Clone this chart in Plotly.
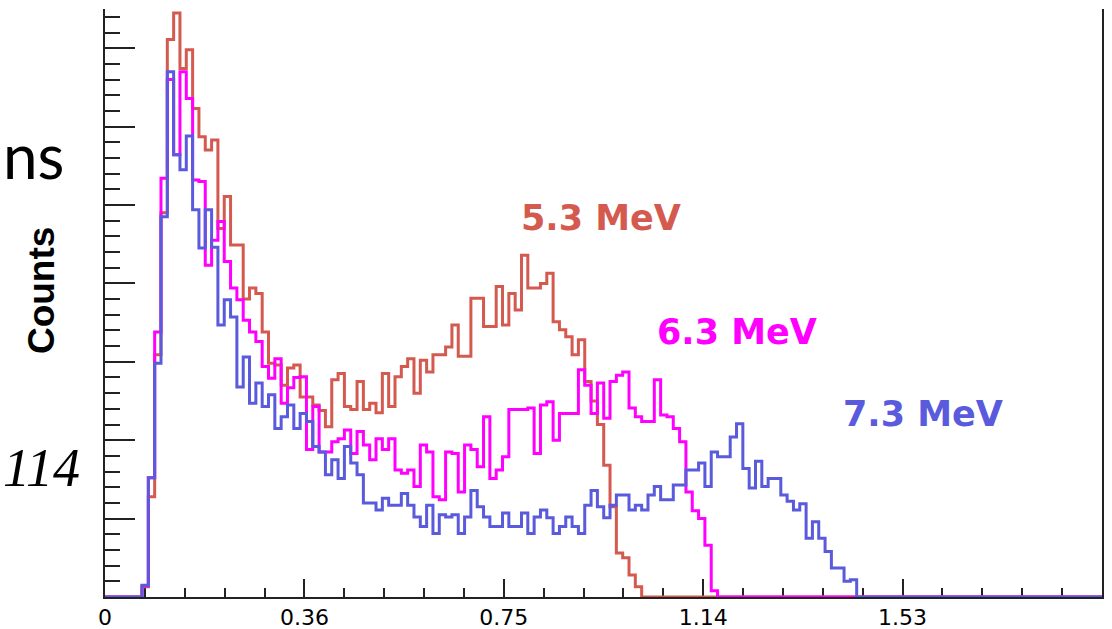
import numpy as np
import plotly.graph_objects as go

# Binning of the energy histograms
BIN_START = 0.0424
BIN_WIDTH = 0.01237

# Counts per bin for each beam energy
counts_5_3 = [13, 128, 309, 490, 711, 745, 674, 698, 623, 587,
              570, 583, 470, 511, 449, 449, 380, 394, 387, 338,
              298, 296, 270, 292, 296, 255, 255, 245, 238, 217,
              277, 285, 243, 239, 275, 239, 247, 235, 285, 243,
              281, 294, 304, 260, 302, 287, 309, 309, 319, 347,
              307, 307, 381, 381, 345, 345, 396, 347, 387, 366,
              436, 394, 394, 400, 413, 351, 341, 332, 309, 328,
              275, 250, 220, 168, 115, 56, 50, 28, 13]

counts_6_3 = [14, 152, 338, 534, 660, 564, 670, 636, 532, 530,
              423, 455, 479, 428, 394, 379, 353, 338, 326, 294,
              279, 304, 247, 267, 280, 281, 188, 243, 185, 185,
              198, 202, 213, 183, 211, 194, 175, 202, 188, 202,
              162, 158, 162, 141, 194, 185, 128, 124, 185, 183,
              134, 194, 188, 166, 230, 151, 162, 179, 239, 239,
              239, 241, 183, 245, 249, 200, 234, 234, 234, 290,
              270, 234, 273, 228, 275, 283, 287, 241, 230, 224,
              224, 277, 232, 230, 215, 198, 134, 110, 100, 66,
              8]

counts_7_3 = [15, 152, 298, 485, 670, 564, 545, 588, 494, 445,
              494, 446, 347, 379, 357, 268, 306, 247, 273, 243,
              258, 215, 230, 245, 215, 234, 224, 192, 185, 156,
              175, 151, 192, 171, 156, 120, 120, 111, 126, 117,
              117, 132, 117, 102, 90, 117, 81, 105, 102, 105,
              81, 102, 136, 115, 102, 90, 90, 107, 90, 90,
              107, 81, 102, 111, 101, 81, 90, 102, 90, 81,
              117, 136, 115, 101, 117, 130, 130, 111, 117, 111,
              130, 141, 124, 124, 143, 143, 162, 162, 171, 141,
              185, 179, 179, 204, 221, 164, 139, 173, 141, 151,
              151, 130, 122, 111, 119, 75, 96, 75, 58, 37,
              37, 20, 22]

series_labels = ["5.3 MeV", "6.3 MeV", "7.3 MeV"]
series_colors = ["#D45A50", "#FF00FF", "#5A5ADC"]
series_counts = [counts_5_3, counts_6_3, counts_7_3]

x_tick_vals = [-0.03, 0.36, 0.75, 1.14, 1.53]
x_tick_text = ["0", "0.36", "0.75", "1.14", "1.53"]
X_RANGE = [-0.03, 1.92]
Y_RANGE = [0, 750]


def step_outline(counts):
    """Outline of a histogram, running along zero outside the filled bins."""
    edges = BIN_START + BIN_WIDTH * np.arange(len(counts) + 1)
    xs = [X_RANGE[0]] + list(edges[:-1]) + [edges[-1], X_RANGE[1]]
    ys = [0] + list(counts) + [0, 0]
    return xs, ys


fig = go.Figure()
for label, color, counts in zip(series_labels, series_colors, series_counts):
    xs, ys = step_outline(counts)
    fig.add_trace(go.Scatter(
        x=xs, y=ys, mode="lines", name=label,
        line=dict(color=color, width=3, shape="hv"),
        hoverinfo="skip",
    ))

# Energy labels next to each spectrum
label_pos = {"5.3 MeV": (0.4975, 0.645), "6.3 MeV": (0.6344, 0.450), "7.3 MeV": (0.82, 0.311)}
for label, color in zip(series_labels, series_colors):
    px, py = label_pos[label]
    fig.add_annotation(
        x=px, y=py, xref="paper", yref="paper", showarrow=False,
        text=f"<b>{label}</b>", xanchor="center", yanchor="middle",
        font=dict(family="DejaVu Sans", size=35, color=color),
    )

# Axis title
fig.add_annotation(
    x=-0.0642, y=0.522, xref="paper", yref="paper", showarrow=False,
    text="<b>Counts</b>", textangle=-90, xanchor="center", yanchor="middle",
    font=dict(family="Liberation Sans", size=37, color="black"),
)

# Surrounding slide text
fig.add_annotation(
    x=-0.1043, y=0.751, xref="paper", yref="paper", showarrow=False,
    text="ns", xanchor="left", yanchor="middle",
    font=dict(family="Lato", size=62, color="black"),
)
fig.add_annotation(
    x=-0.1043, y=0.219, xref="paper", yref="paper", showarrow=False,
    text="<i>114</i>", xanchor="left", yanchor="middle",
    font=dict(family="Liberation Serif", size=54, color="black"),
)

fig.update_layout(
    width=1112, height=629,
    margin=dict(l=105, r=10, t=9, b=32, autoexpand=False),
    paper_bgcolor="white", plot_bgcolor="white",
    showlegend=False,
)
fig.update_xaxes(
    range=X_RANGE, tickmode="array", tickvals=x_tick_vals, ticktext=x_tick_text,
    showline=True, linecolor="#222222", linewidth=2, mirror=False,
    ticks="inside", ticklen=18, tickwidth=2, tickcolor="#222222",
    minor=dict(tickmode="linear", tick0=-0.03, dtick=0.078, ticks="inside",
               ticklen=9, tickwidth=2, tickcolor="#222222"),
    showgrid=False, zeroline=False, layer="below traces", automargin=False,
    tickfont=dict(family="DejaVu Sans", size=22, color="black"),
)
fig.update_yaxes(
    range=Y_RANGE, tickmode="linear", tick0=0, dtick=100,
    showline=True, linecolor="#222222", linewidth=2, mirror=True,
    ticks="inside", ticklen=30, tickwidth=2, tickcolor="#222222",
    minor=dict(tickmode="linear", tick0=0, dtick=20, ticks="inside",
               ticklen=15, tickwidth=2, tickcolor="#222222"),
    showticklabels=False, showgrid=False, zeroline=False, layer="below traces",
    automargin=False,
)

fig.write_html("out.html")
